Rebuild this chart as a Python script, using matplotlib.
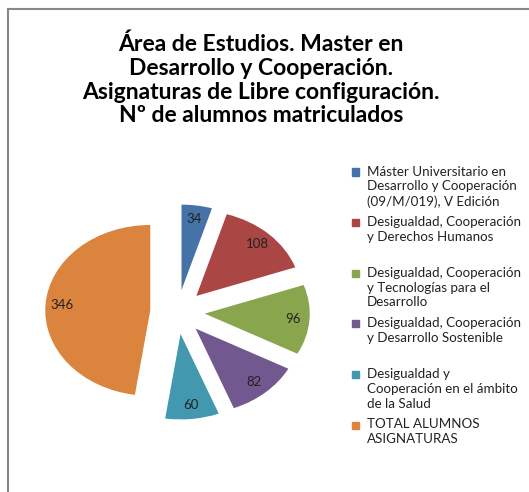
import matplotlib.pyplot as plt
from matplotlib.patches import Rectangle
from matplotlib.lines import Line2D

plt.rcParams['font.family'] = ['Lato', 'DejaVu Sans']

# data
categories = [
    'Máster Universitario en\nDesarrollo y Cooperación\n(09/M/019), V Edición',
    'Desigualdad, Cooperación\ny Derechos Humanos',
    'Desigualdad, Cooperación\ny Tecnologías para el\nDesarrollo',
    'Desigualdad, Cooperación\ny Desarrollo Sostenible',
    'Desigualdad y\nCooperación en el ámbito\nde la Salud',
    'TOTAL ALUMNOS\nASIGNATURAS',
]
values = [34, 108, 96, 82, 60, 346]
colors = ['#4572A7', '#AA4643', '#89A54E', '#71588F', '#4198AF', '#DB843D']
title = ('Área de Estudios. Master en\nDesarrollo y Cooperación.\n'
         'Asignaturas de Libre configuración.\nNº de alumnos matriculados')

W, H = 529, 492
fig = plt.figure(figsize=(W / 100, H / 100), dpi=100)

# pie axes, stretched a bit horizontally like the original
ax = fig.add_axes([41 / W, 69 / H, 273 / W, 222 / H])
total = sum(values)
wedges, texts, autotexts = ax.pie(
    values, colors=colors, startangle=90, counterclock=False,
    explode=[0.26] * len(values), radius=1.0,
    autopct=lambda p: '%d' % round(p * total / 100.0),
    pctdistance=0.84, wedgeprops=dict(linewidth=0))
for t in autotexts:
    t.set_fontsize(9.5)
    t.set_color('#222222')
ax.set_xlim(-1.3, 1.3)
ax.set_ylim(-1.3, 1.3)
ax.set_aspect('auto')
ax.axis('off')

fig.text(261 / W, 1 - 80 / H, title, ha='center', va='center',
         fontsize=16.5, fontweight='bold', linespacing=1.15)

# legend, drawn by hand: Excel gives each entry an equal slot (~50 px)
legend_top = 165.5
slot = 50.6
for i, (lab, col) in enumerate(zip(categories, colors)):
    y = legend_top + i * slot
    fig.add_artist(Rectangle((352 / W, 1 - (y + 10) / H), 7 / W, 7 / H,
                             color=col, transform=fig.transFigure))
    fig.text(367 / W, 1 - y / H, lab, ha='left', va='top', fontsize=9.6,
             color='#222222', linespacing=1.28)

# partial frame as in the screenshot
fig.add_artist(Line2D([8 / W, 8 / W], [0, 1 - 9 / H], color='#888888', lw=1.5))
fig.add_artist(Line2D([8 / W, 1], [1 - 9 / H, 1 - 9 / H], color='#888888', lw=1.5))

fig.savefig('out.png', dpi=100)
